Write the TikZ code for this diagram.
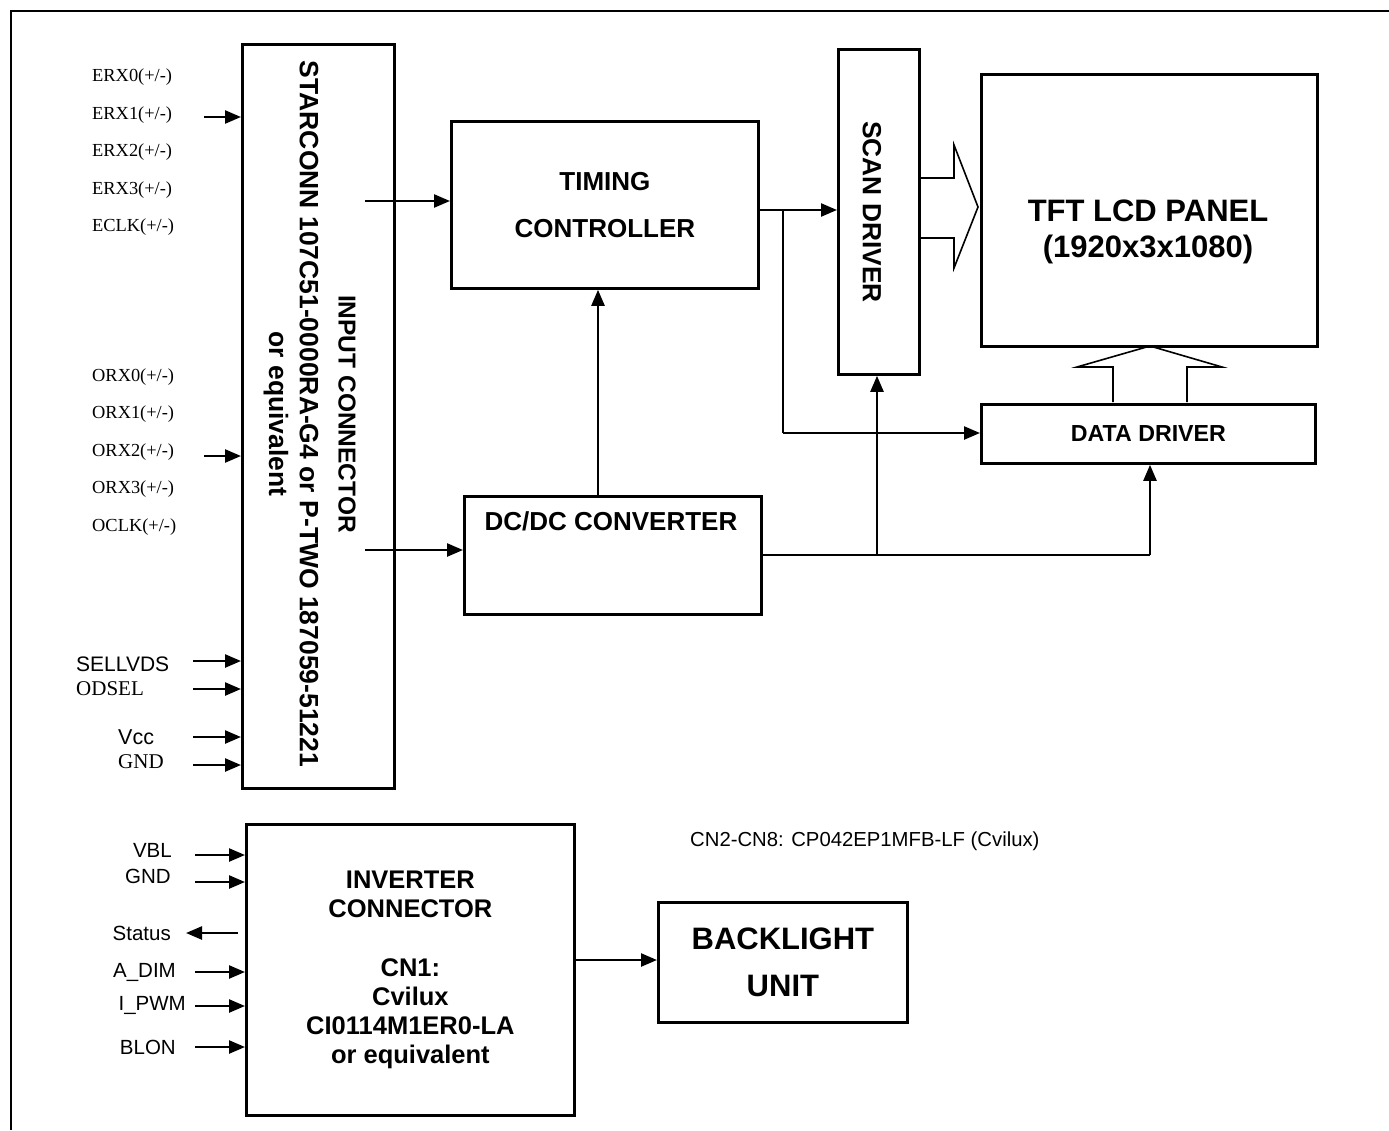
\documentclass[tikz,border=0pt]{standalone}
\usepackage{fontspec}
\setmainfont{Liberation Sans}
\newfontfamily\tms{Liberation Serif}
\usetikzlibrary{arrows.meta,calc}
\tikzset{
  box/.style={draw, line width=2.8pt, inner sep=0pt, anchor=north west, align=center},
  arr/.style={line width=2.4pt, -{Triangle[length=16pt,width=13pt]}},
  ln/.style={line width=2.4pt},
  hollow/.style={line width=1.6pt, line join=miter},
  serlab/.style={inner sep=0pt, anchor=west, font=\tms\fontsize{18.4}{20}\selectfont},
  serlabB/.style={inner sep=0pt, anchor=west, font=\tms\fontsize{21}{23}\selectfont},
  sanlab/.style={inner sep=0pt, font=\fontsize{20.5}{23}\selectfont},
  bigb/.style={font=\bfseries\fontsize{26}{47}\selectfont},
}
\begin{document}
\begin{tikzpicture}[x=1pt,y=-1pt]
\useasboundingbox (0,0) rectangle (1389,1130);
% page border
\draw[line width=2.4pt] (11,1130) -- (11,11) -- (1389,11);

% boxes
\node[box, minimum width=152pt, minimum height=744pt] (conn) at (241,43) {};
\node[box, minimum width=307pt, minimum height=167pt, bigb] (timing) at (450,120) {TIMING\\CONTROLLER};
\node[box, minimum width=297pt, minimum height=118pt] (dcdc) at (463,495) {};
\node[box, minimum width=81pt, minimum height=325pt] (scan) at (837,48) {};
\node[box, minimum width=336pt, minimum height=272pt] (panel) at (980,73) {};
\node[box, minimum width=334pt, minimum height=59pt, font=\bfseries\fontsize{23.2}{26}\selectfont] (data) at (980,403) {DATA DRIVER};
\node[box, minimum width=328pt, minimum height=291pt, font=\bfseries\fontsize{25.5}{29.3}\selectfont] (inv) at (245,823) {INVERTER\\CONNECTOR\\[29.3pt]CN1:\\Cvilux\\CI0114M1ER0-LA\\or equivalent};
\node[box, minimum width=249pt, minimum height=120pt, font=\bfseries\fontsize{31}{47}\selectfont] (blu) at (657,901) {BACKLIGHT\\UNIT};

% texts inside boxes
\node[rotate=-90, inner sep=0pt, font=\bfseries\fontsize{24.5}{26}\selectfont] (connt1) at (347,414) {INPUT CONNECTOR};
\node[rotate=-90, inner sep=0pt, font=\bfseries\fontsize{26.5}{28}\selectfont] (connt2) at (309,414) {STARCONN 107C51-0000RA-G4 or P-TWO 187059-51221};
\node[rotate=-90, inner sep=0pt, font=\bfseries\fontsize{26.5}{28}\selectfont] (connt3) at (276,414) {or equivalent};
\node[rotate=-90, inner sep=0pt, font=\bfseries\fontsize{26.3}{28}\selectfont] (scant) at (872,212) {SCAN DRIVER};
\node[inner sep=0pt, font=\bfseries\fontsize{26}{28}\selectfont] (dcdct) at (611,521) {DC/DC CONVERTER};
\node[inner sep=0pt, align=center, font=\bfseries\fontsize{31}{36}\selectfont] (panelt) at (1148,232) {TFT LCD PANEL\\(1920x3x1080)};
\node[inner sep=0pt, anchor=west, font=\fontsize{20.3}{23}\selectfont] (cnote) at (690,841) {CN2-CN8: CP042EP1MFB-LF (Cvilux)};

% left labels (LVDS)
\node[serlab] (l1) at (92,77) {ERX0(+/-)};
\node[serlab] (l2) at (92,115) {ERX1(+/-)};
\node[serlab] (l3) at (92,152) {ERX2(+/-)};
\node[serlab] (l4) at (92,190) {ERX3(+/-)};
\node[serlab] (l5) at (92,227) {ECLK(+/-)};
\node[serlab] (l6) at (92,377) {ORX0(+/-)};
\node[serlab] (l7) at (92,414) {ORX1(+/-)};
\node[serlab] (l8) at (92,452) {ORX2(+/-)};
\node[serlab] (l9) at (92,489) {ORX3(+/-)};
\node[serlab] (l10) at (92,527) {OCLK(+/-)};
\node[sanlab, anchor=west, font=\fontsize{21}{23}\selectfont] (l11) at (76,664) {SELLVDS};
\node[serlabB] (l12) at (76,689) {ODSEL};
\node[sanlab, anchor=west, font=\fontsize{21.5}{23}\selectfont] (l13) at (118,737) {Vcc};
\node[serlabB] (l14) at (118,762) {GND};

% inverter labels
\node[sanlab, anchor=east] (b1) at (172,850) {VBL};
\node[sanlab, anchor=east] (b2) at (171,876) {GND};
\node[sanlab, anchor=east] (b3) at (171,933) {Status};
\node[sanlab, anchor=east] (b4) at (176,972) {A\_DIM};
\node[sanlab, anchor=east] (b5) at (186,1005) {I\_PWM};
\node[sanlab, anchor=east] (b6) at (176,1047) {BLON};

% input arrows to connector
\coordinate (a1) at (204,117);
\coordinate (a2) at (204,456);
\coordinate (a3) at (193,661);
\coordinate (a4) at (193,689);
\coordinate (a5) at (193,737);
\coordinate (a6) at (193,765);
\foreach \c in {a1,a2,a3,a4,a5,a6} \draw[arr] (\c) -- (conn.west |- \c);

% inverter arrows
\coordinate (v1) at (195,855);
\coordinate (v2) at (195,882);
\coordinate (v4) at (195,972);
\coordinate (v5) at (195,1006);
\coordinate (v6) at (195,1047);
\foreach \c in {v1,v2,v4,v5,v6} \draw[arr] (\c) -- (inv.west |- \c);
\coordinate (v3s) at (238,933);
\coordinate (v3e) at (186,933);
\draw[arr] (v3s) -- (v3e);
\draw[arr] (inv.east |- 0,960) -- (blu.west |- 0,960);

% connector to timing / dcdc
\coordinate (c1) at (365,201);
\coordinate (c2) at (365,550);
\draw[arr] (c1) -- (timing.west |- c1);
\draw[arr] (c2) -- (dcdc.west |- c2);

% dcdc to timing
\coordinate (dt) at (598,0);
\draw[arr] (dcdc.north -| dt) -- (timing.south -| dt);

% timing to scan and data drivers
\coordinate (tj) at (783,210);
\coordinate (dj) at (783,433);
\draw[arr] (timing.east |- tj) -- (scan.west |- tj);
\draw[ln] (tj) -- (dj);
\draw[arr] (dj) -- (data.west |- dj);

% dcdc power to scan and data
\coordinate (pw) at (1150,555);
\coordinate (sj) at (877,555);
\draw[ln] (dcdc.east |- pw) -- (pw);
\draw[arr] (pw) -- (data.south -| pw);
\draw[arr] (sj) -- (scan.south -| sj);

% hollow block arrows
\draw[hollow] (scan.east |- 0,178) -- (954,178) -- (954,145) -- (978,207) -- (954,268) -- (954,238) -- (scan.east |- 0,238);
\draw[hollow] (1113,402) -- (1113,367) -- (1077,367) -- (1150,346) -- (1222,367) -- (1187,367) -- (1187,402);
\end{tikzpicture}
\end{document}
